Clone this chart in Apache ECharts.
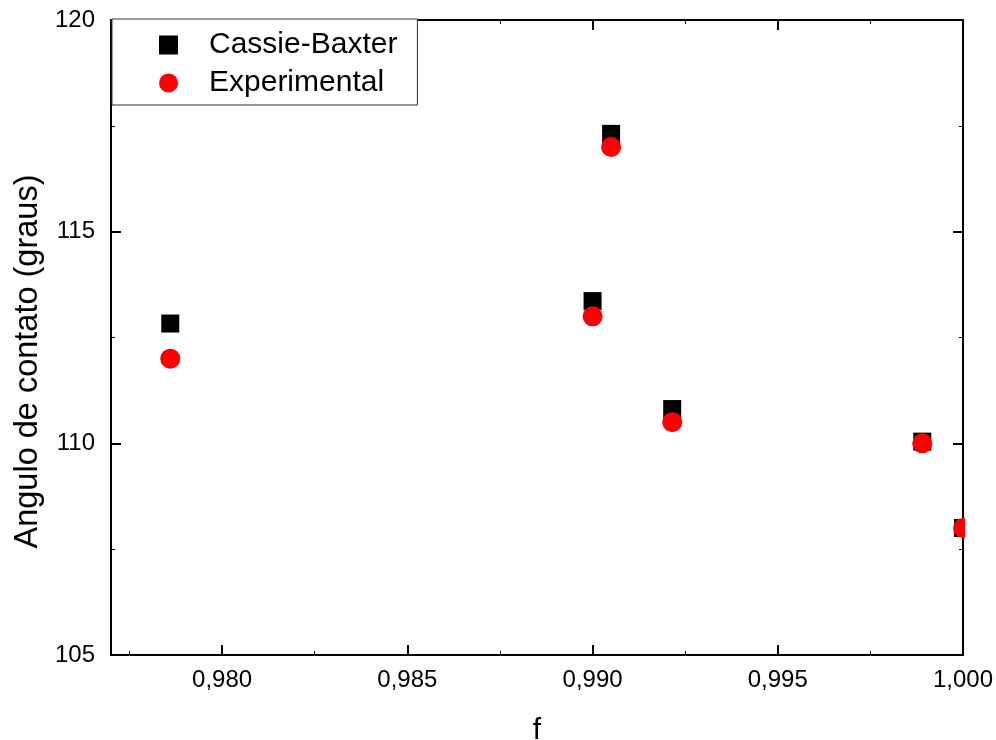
<!DOCTYPE html>
<html>
<head>
<meta charset="utf-8">
<title>Angulo de contato x f</title>
<script src="https://cdn.jsdelivr.net/npm/echarts@6/dist/echarts.min.js"></script>
<style>
html,body{margin:0;padding:0;background:#fff;}
#chart_main{width:996px;height:740px;}
</style>
</head>
<body>
<div id="chart_main"></div>
<script>
// dados
var fValues = [0.9786, 0.9900, 0.9905, 0.99215, 0.9989, 1.0000];
var cassieBaxter = [112.83, 113.36, 117.31, 110.81, 110.04, 108.0];
var experimental = [112.0, 113.0, 117.0, 110.5, 110.0, 108.0];
var xMajorTicks = [0.980, 0.985, 0.990, 0.995, 1.000];
var xMinorTicks = [0.9775, 0.9825, 0.9875, 0.9925, 0.9975];
var seriesNames = ['Cassie-Baxter', 'Experimental'];

var FONT = 'Liberation Sans, Arial, sans-serif';

function toPairs(xs, ys){
	var out = [];
	for(var i=0;i<xs.length;i++){
		out.push([xs[i], ys[i]]);
	}
	return out;
}

//eixo x (principal ou secundario)
function xAxisOf(position, ticks, len, width, withLabel){
	return {
		type: 'value', position: position, min: 0.977, max: 1.0,
		axisLine: {show: true, onZero: false, lineStyle: {color: '#000', width: 2}},
		axisTick: {show: true, inside: true, length: len, customValues: ticks,
			lineStyle: {color: '#000', width: width}},
		axisLabel: {show: withLabel, customValues: ticks, margin: 13,
			color: '#000', fontSize: 24, fontFamily: FONT,
			formatter: function(v){ return v.toFixed(3).replace('.', ','); }},
		splitLine: {show: false},
		name: withLabel ? 'f' : '', nameLocation: 'middle', nameGap: 61,
		nameTextStyle: {color: '#000', fontSize: 30, fontFamily: FONT}
	};
}

function yAxisOf(position, withLabel){
	return {
		type: 'value', position: position, min: 105, max: 120, interval: 5,
		axisLine: {show: true, onZero: false, lineStyle: {color: '#000', width: 2}},
		axisTick: {show: true, inside: true, length: 10, lineStyle: {color: '#000', width: 2}},
		minorTick: {show: true, splitNumber: 2, length: 4, lineStyle: {color: '#000', width: 1}},
		axisLabel: {show: withLabel, margin: 16, color: '#000', fontSize: 24, fontFamily: FONT},
		splitLine: {show: false},
		name: withLabel ? 'Angulo de contato (graus)' : '', nameLocation: 'middle', nameGap: 62,
		nameTextStyle: {color: '#000', fontSize: 32.5, fontFamily: FONT, padding: [0, 48, 0, 0]}
	};
}

function showChart(){
	var myChart = echarts.init(document.getElementById('chart_main'));
	var option = {
		animation: false,
		backgroundColor: '#fff',
		grid: {left: 111, right: 33, top: 20, bottom: 85, containLabel: false, outerBoundsMode: 'none'},
		xAxis: [
			xAxisOf('bottom', xMajorTicks, 10, 2, true),
			xAxisOf('bottom', xMinorTicks, 4, 1, false),
			xAxisOf('top', xMajorTicks, 10, 2, false),
			xAxisOf('top', xMinorTicks, 4, 1, false)
		],
		yAxis: [yAxisOf('left', true), yAxisOf('right', false)],
		legend: {
			orient: 'vertical', left: 112, top: 19,
			padding: [11, 20, 7, 47], itemGap: 8,
			itemWidth: 19, itemHeight: 19,
			borderColor: '#333', borderWidth: 1, backgroundColor: '#fff',
			textStyle: {color: '#000', fontSize: 30, fontFamily: FONT, padding: [0, 0, 0, 26]},
			data: [{name: seriesNames[0], icon: 'rect'}, {name: seriesNames[1], icon: 'circle'}]
		},
		graphic: [
			// mascara para cortar os pontos fora da area do grafico
			{type: 'rect', left: 965, top: 0, shape: {width: 31, height: 650},
				style: {fill: '#fff'}, z: 100, silent: true}
		],
		series: [
			{
				name: seriesNames[0], type: 'scatter', symbol: 'rect', symbolSize: 18,
				itemStyle: {color: '#000', opacity: 1},
				data: toPairs(fValues, cassieBaxter)
			},
			{
				name: seriesNames[1], type: 'scatter', symbol: 'circle', symbolSize: 20,
				itemStyle: {color: '#ff0000', opacity: 1},
				data: toPairs(fValues, experimental)
			}
		]
	};
	myChart.setOption(option);
}

showChart();
</script>
</body>
</html>
